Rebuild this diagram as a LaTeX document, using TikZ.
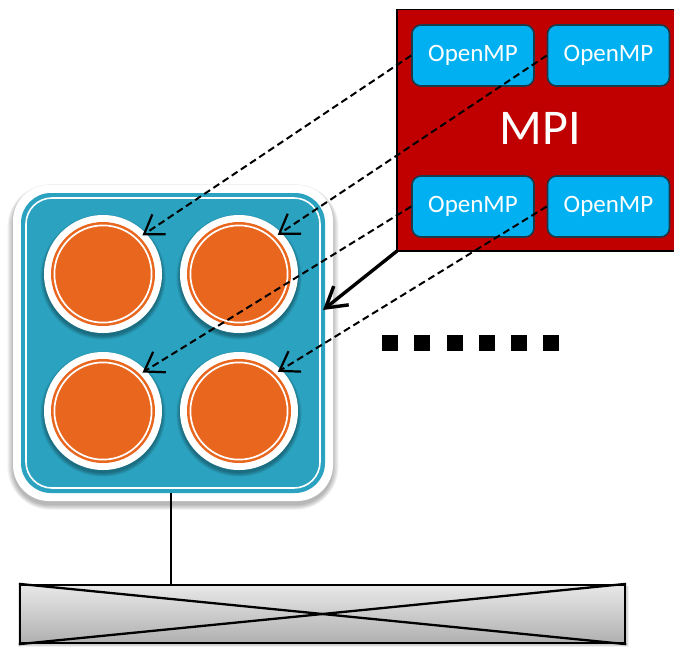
\documentclass[tikz,border=0pt]{standalone}
\usepackage{fontspec}
\setmainfont{Carlito}
\usetikzlibrary{arrows.meta}
\definecolor{mpired}{HTML}{C00000}
\definecolor{ompblue}{HTML}{00B0F0}
\definecolor{ompedge}{HTML}{1B3B4A}
\definecolor{boxblue}{HTML}{2BA2BF}
\definecolor{coreorange}{HTML}{E9661F}
\tikzset{
  ompbox/.style={draw=ompedge, line width=1.6pt, fill=ompblue, rounded corners=9pt,
    minimum width=122pt, minimum height=61pt, inner sep=0pt, text=white,
    font=\fontsize{25}{25}\selectfont},
  mpibox/.style={draw=black, line width=1.5pt, fill=mpired},
  nodebox/.style={fill=boxblue, rounded corners=30pt, minimum width=304pt,
    minimum height=300pt, inner sep=0pt},
  corewhite/.style={circle, fill=white, minimum size=118pt, inner sep=0pt},
  coreorange/.style={circle, fill=coreorange, minimum size=104pt, inner sep=0pt},
  msgarrow/.style={dash pattern=on 7pt off 4pt, line width=2pt, shorten >=3pt,
    arrows={-Straight Barb[length=18pt, width=24pt, line width=2.2pt]}},
  bigarrow/.style={line width=3.4pt, arrows={-Straight Barb[length=20pt, width=24pt, line width=3.4pt]}},
  dotsq/.style={fill=black, minimum size=16pt, inner sep=0pt},
  netbar/.style={draw=black, line width=2.3pt, top color=gray!18, bottom color=gray!62,
    minimum width=605pt, minimum height=58pt, inner sep=0pt}
}
\begin{document}
\begin{tikzpicture}[x=1pt,y=-1pt]
\useasboundingbox (0,0) rectangle (674,646);
% MPI process box
\path[mpibox] (397,9.5) rectangle (680,251);
\node[inner sep=0pt] (mpi) at (397,251) {};
\node[text=white, font=\fontsize{50}{50}\selectfont] (mpilabel) at (540,128) {MPI};
\node[ompbox] (omp1) at (473,55.5) {OpenMP};
\node[ompbox] (omp2) at (608.5,55.5) {OpenMP};
\node[ompbox] (omp3) at (473,206.5) {OpenMP};
\node[ompbox] (omp4) at (608.5,206.5) {OpenMP};
% compute node: soft shadow
\foreach \i in {0,1,...,7}{
  \fill[black, opacity=0.04, rounded corners=36pt+\i pt]
    (13-\i*0.8,187-\i*0.4) rectangle (333+\i*0.8,505+\i*0.7);
}
\fill[white, rounded corners=36pt] (13,185) rectangle (333,501);
\node[nodebox] (nodebox) at (173,343) {};
\draw[white, line width=1.6pt, rounded corners=26pt] (26,198) rectangle (320,488);
% cores
\foreach \n/\cx/\cy in {c1/103/274, c2/239/274, c3/103/411, c4/239/411}{
  \foreach \i in {0,1,...,6}{
    \fill[black, opacity=0.05] (\cx,\cy+3) circle (59pt+\i*0.6pt);
  }
  \node[corewhite] (\n) at (\cx,\cy) {};
  \node[coreorange] (\n o) at (\cx,\cy) {};
  \draw[white, line width=1.7pt] (\cx,\cy) circle (48.6pt);
}
% message arrows
\draw[msgarrow] (omp1.west) -- (c1o.45);
\draw[msgarrow] (omp2.west) -- (c2o.46);
\draw[msgarrow] (omp3.west) -- (c3o.45);
\draw[msgarrow] (omp4.west) -- (c4o.46);
\coordinate (tip) at (323,310);
\draw[bigarrow] (mpi.center) -- (tip);
% dots
\foreach \i/\dx in {1/390,2/422,3/454.5,4/486.5,5/519,6/551}{
  \node[dotsq] (d\i) at (\dx,343) {};
}
% network
\foreach \i in {0,1,2,3}{
  \fill[black, opacity=0.05] (19-\i*0.5,586) rectangle (627+\i*0.7,645+\i*0.6);
}
\node[netbar] (bar) at (322.5,614) {};
\draw[line width=2.3pt] (bar.north west) -- (bar.south east);
\draw[line width=2.3pt] (bar.south west) -- (bar.north east);
\draw[line width=2.3pt] (nodebox.south -| 171,0) -- (bar.north -| 171,0);
\end{tikzpicture}
\end{document}
